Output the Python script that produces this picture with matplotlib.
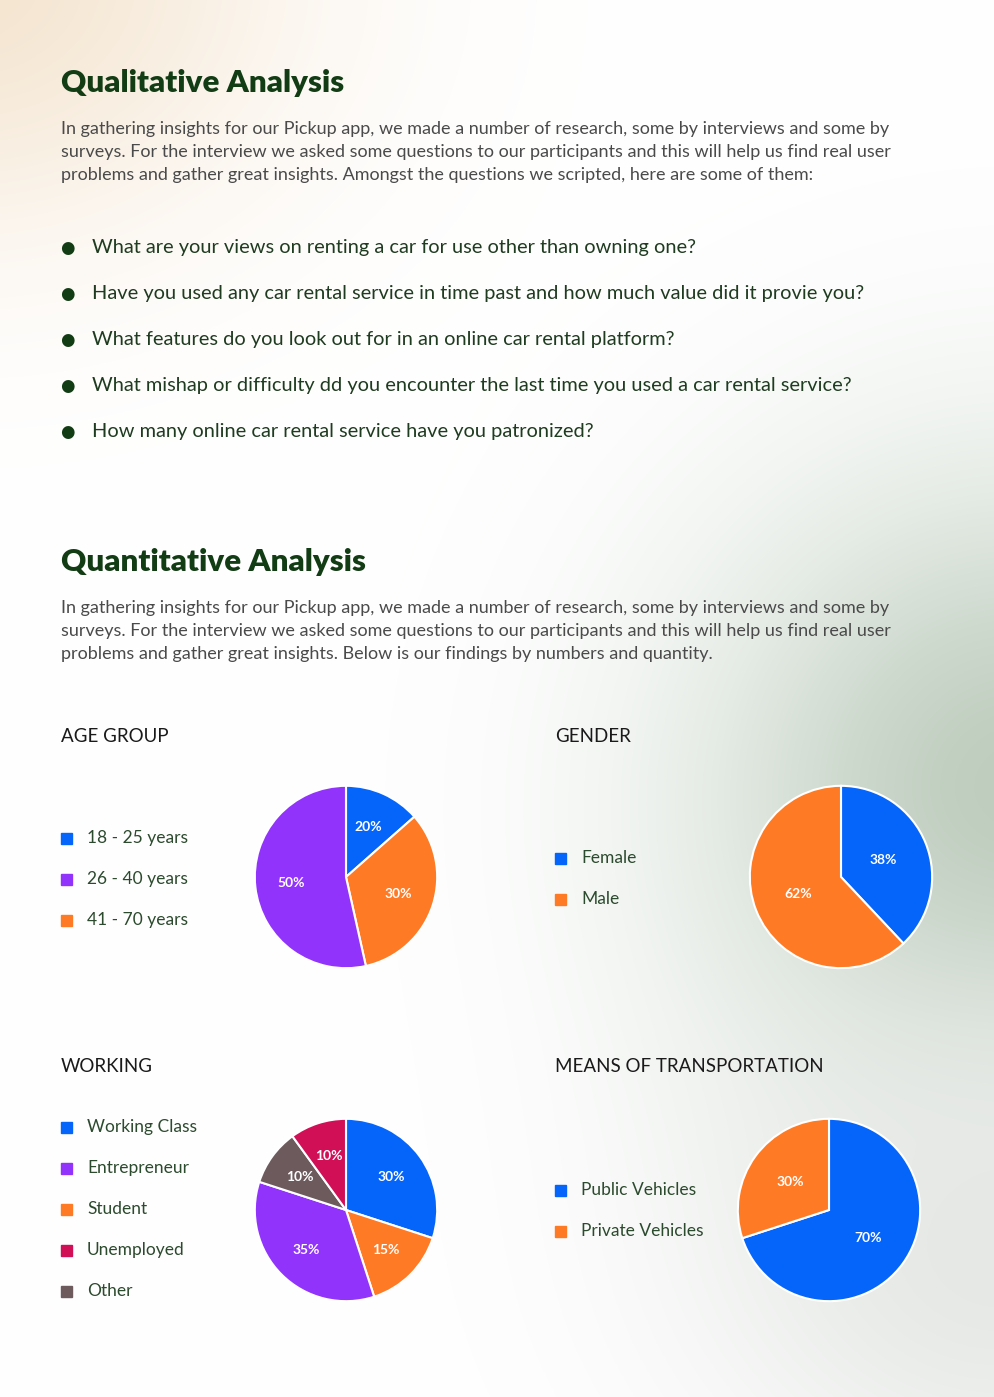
import numpy as np
import matplotlib
matplotlib.use("Agg")
import matplotlib.pyplot as plt

W, H = 994, 1397
FONT = "Lato"

# ---- text content
intro_lines = [
    "In gathering insights for our Pickup app, we made a number of research, some by interviews and some by",
    "surveys. For the interview we asked some questions to our participants and this will help us find real user",
    "problems and gather great insights. Amongst the questions we scripted, here are some of them:",
]
questions = [
    "What are your views on renting a car for use other than owning one?",
    "Have you used any car rental service in time past and how much value did it provie you?",
    "What features do you look out for in an online car rental platform?",
    "What mishap or difficulty dd you encounter the last time you used a car rental service?",
    "How many online car rental service have you patronized?",
]
quant_lines = [
    "In gathering insights for our Pickup app, we made a number of research, some by interviews and some by",
    "surveys. For the interview we asked some questions to our participants and this will help us find real user",
    "problems and gather great insights. Below is our findings by numbers and quantity.",
]

# ---- pie data (wedge sizes as drawn, labels as printed)
age_cats = ["18 - 25 years", "26 - 40 years", "41 - 70 years"]
age_sizes = [13.5, 53.5, 33.0]
age_labels = ["20%", "50%", "30%"]

gender_cats = ["Female", "Male"]
gender_sizes = [38, 62]
gender_labels = ["38%", "62%"]

work_cats = ["Working Class", "Entrepreneur", "Student", "Unemployed", "Other"]
work_sizes = [30, 35, 15, 10, 10]
work_labels = ["30%", "35%", "15%", "10%", "10%"]

trans_cats = ["Public Vehicles", "Private Vehicles"]
trans_sizes = [70, 30]
trans_labels = ["70%", "30%"]

BLUE, PURPLE, ORANGE = "#0565fb", "#9233fc", "#ff7a24"
RED, BROWN = "#d00f57", "#6d5a5d"


def fx(x):
    return x / W


def fy(y):
    return 1 - y / H


fig = plt.figure(figsize=(W / 100, H / 100), dpi=100)

# ---- background wash
bg = fig.add_axes([0, 0, 1, 1])
yy, xx = np.mgrid[0:H, 0:W]
img = np.ones((H, W, 3))
peach = np.exp(-(((xx + 40) / 320.0) ** 2 + ((yy + 20) / 250.0) ** 2))
green = np.exp(-(((xx - 1020) / 320.0) ** 2 + ((yy - 800) / 320.0) ** 2))
grey = np.exp(-(((xx - 1000) / 300.0) ** 2 + ((yy - 1250) / 250.0) ** 2))
pc = np.array([0.96, 0.90, 0.82])
gc = np.array([0.74, 0.80, 0.74])
yc = np.array([0.90, 0.91, 0.90])
for blob, col in [(peach, pc), (green, gc), (grey, yc)]:
    img = img * (1 - blob[..., None]) + col * blob[..., None]
bg.imshow(img, aspect="auto", extent=[0, 1, 0, 1])
bg.axis("off")

HEAD = "#123c14"
BODY = "#4a4a4a"
DARK = "#1f3b20"

# ---- headings and paragraphs
fig.text(fx(61), fy(83), "Qualitative Analysis", fontsize=22.5, fontweight="heavy",
         color=HEAD, family=FONT, va="center")
for i, line in enumerate(intro_lines):
    fig.text(fx(61), fy(129 + 23 * i), line, fontsize=13, color=BODY,
             family=FONT, va="center")

for i, q in enumerate(questions):
    y = 248 + 46 * i
    fig.text(fx(67), fy(y), "\u25cf", fontsize=12, color=HEAD, family="DejaVu Sans",
             va="center", ha="center")
    fig.text(fx(92), fy(y), q, fontsize=14.4, color=DARK, family=FONT, va="center")

fig.text(fx(61), fy(562), "Quantitative Analysis", fontsize=22.5, fontweight="heavy",
         color=HEAD, family=FONT, va="center")
for i, line in enumerate(quant_lines):
    fig.text(fx(61), fy(608 + 23 * i), line, fontsize=13, color=BODY,
             family=FONT, va="center")


def draw_pie(title, tx, ty, cats, sizes, labels, colors, leg_x, leg_y0,
             cx, cy, r=93, order=None, pdist=0.6):
    fig.text(fx(tx), fy(ty), title, fontsize=13.5, color="#1a1a1a",
             family=FONT, va="center")
    for i, (c, col) in enumerate(zip(cats, colors)):
        y = leg_y0 + 41 * i
        fig.patches.append(plt.Rectangle((fx(leg_x), fy(y + 6)), 11 / W, 11 / H,
                                         transform=fig.transFigure, color=col))
        fig.text(fx(leg_x + 26), fy(y), c, fontsize=12.5, color="#2c4a2e",
                 family=FONT, va="center")
    ax = fig.add_axes([fx(cx - r), fy(cy + r), 2 * r / W, 2 * r / H])
    idx = order if order is not None else list(range(len(sizes)))
    wedges, _ = ax.pie([sizes[i] for i in idx], colors=[colors[i] for i in idx],
                       startangle=90, counterclock=False, radius=1,
                       wedgeprops=dict(edgecolor="white", linewidth=1.5))
    for w, i in zip(wedges, idx):
        ang = np.deg2rad((w.theta1 + w.theta2) / 2)
        ax.text(pdist * np.cos(ang), pdist * np.sin(ang), labels[i], color="white",
                fontsize=10, fontweight="bold", family=FONT, ha="center", va="center")
    ax.set_xlim(-1.02, 1.02)
    ax.set_ylim(-1.02, 1.02)
    ax.set_aspect("equal")
    ax.axis("off")


draw_pie("AGE GROUP", 61, 737, age_cats, age_sizes, age_labels,
         [BLUE, PURPLE, ORANGE], 61, 838, 346, 877, order=[0, 2, 1])
draw_pie("GENDER", 555, 737, gender_cats, gender_sizes, gender_labels,
         [BLUE, ORANGE], 555, 858, 841, 877, pdist=0.5)
draw_pie("WORKING", 61, 1066, work_cats, work_sizes, work_labels,
         [BLUE, PURPLE, ORANGE, RED, BROWN], 61, 1127, 346, 1210,
         order=[0, 2, 1, 4, 3], pdist=0.62)
draw_pie("MEANS OF TRANSPORTATION", 555, 1066, trans_cats, trans_sizes, trans_labels,
         [BLUE, ORANGE], 555, 1190, 829, 1210, pdist=0.53)

fig.savefig("out.png", dpi=100)
